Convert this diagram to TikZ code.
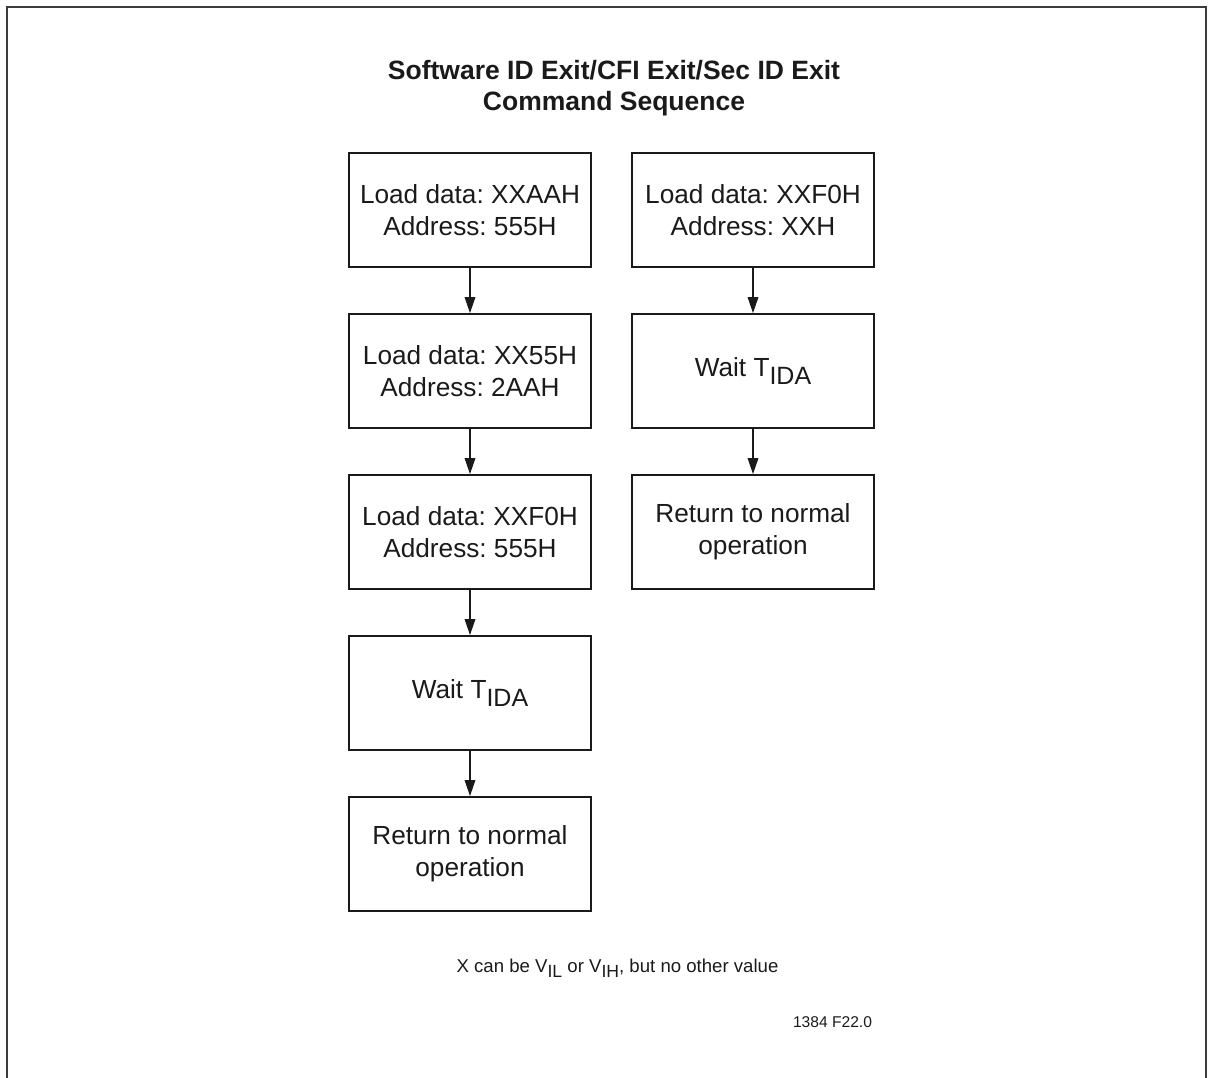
\documentclass[tikz,border=0pt]{standalone}
\usepackage{fontspec}
\setmainfont{Liberation Sans}
\usetikzlibrary{arrows.meta}
\definecolor{ink}{HTML}{1A1A1A}
\newcommand{\lowpart}[2]{\raisebox{-#1}{#2}}
\frenchspacing
\begin{document}
\begin{tikzpicture}[x=1pt,y=-1pt,
  stepbox/.style={draw=ink,line width=1.7pt,minimum width=242pt,minimum height=114pt,inner sep=0pt,align=center,text=ink,font=\fontsize{26.2}{32}\selectfont},
  flow/.style={draw=ink,line width=1.6pt,-{Triangle[length=16pt,width=10.5pt]}},
  frameline/.style={draw=ink!85,line width=2.6pt}]
\useasboundingbox (0,0) rectangle (1212,1077);
\draw[frameline] (7,1080) -- (7,7) -- (1206,7) -- (1206,1080);
\node[align=center,text=ink,font=\fontsize{26.5}{31}\selectfont\bfseries] (title) at (614,88) {Software ID Exit/CFI Exit/Sec ID Exit\\Command Sequence};
% left column
\node[stepbox] (l1) at (470,210) {Load data: XXAAH\\Address: 555H};
\node[stepbox] (l2) at (470,371) {Load data: XX55H\\Address: 2AAH};
\node[stepbox] (l3) at (470,532) {Load data: XXF0H\\Address: 555H};
\node[stepbox] (l4) at (470,693) {Wait T\lowpart{8pt}{\fontsize{25}{25}\selectfont IDA}};
\node[stepbox] (l5) at (470,854) {Return to normal\\operation};
% right column
\node[stepbox] (r1) at (753,210) {Load data: XXF0H\\Address: XXH};
\node[stepbox] (r2) at (753,371) {Wait T\lowpart{8pt}{\fontsize{25}{25}\selectfont IDA}};
\node[stepbox] (r3) at (753,532) {Return to normal\\operation};
\draw[flow] (l1) -- (l2);
\draw[flow] (l2) -- (l3);
\draw[flow] (l3) -- (l4);
\draw[flow] (l4) -- (l5);
\draw[flow] (r1) -- (r2);
\draw[flow] (r2) -- (r3);
\node[text=ink,font=\fontsize{18.6}{22}\selectfont,inner sep=0pt] (note) at (617.5,968) {X can be V\lowpart{5pt}{\fontsize{17.6}{17}\selectfont IL} or V\lowpart{5pt}{\fontsize{17.6}{17}\selectfont IH}, but no other value};
\node[text=ink,font=\fontsize{15.6}{18}\selectfont,inner sep=0pt] (code) at (832.5,1022) {1384 F22.0};
\end{tikzpicture}
\end{document}
